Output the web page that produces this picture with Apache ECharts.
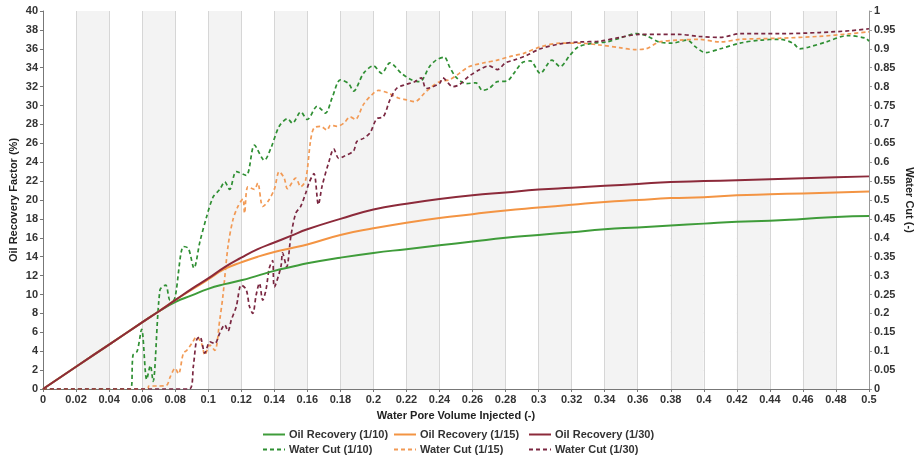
<!DOCTYPE html>
<html>
<head>
<meta charset="utf-8">
<script src="https://cdn.jsdelivr.net/npm/echarts@6/dist/echarts.min.js"></script>
<style>html,body{margin:0;padding:0;background:#fff;}#c{width:921px;height:455px;}</style>
</head>
<body>
<div id="c"></div>
<script>
// Oil recovery factor (%) vs water PV injected
const recX   = [0, 0.02, 0.04, 0.06, 0.07, 0.08, 0.09, 0.1, 0.11, 0.12, 0.13, 0.14, 0.15, 0.16, 0.18, 0.2, 0.22, 0.24, 0.26, 0.28, 0.3, 0.32, 0.34, 0.36, 0.38, 0.4, 0.42, 0.44, 0.46, 0.48, 0.5];
const rec10  = [0, 2.35, 4.7, 7.05, 8.2, 9.2, 9.9, 10.6, 11.1, 11.5, 12.0, 12.5, 12.9, 13.3, 13.9, 14.4, 14.8, 15.2, 15.6, 16.0, 16.3, 16.6, 16.9, 17.1, 17.3, 17.5, 17.7, 17.8, 18.0, 18.2, 18.3];
const rec15  = [0, 2.35, 4.7, 7.05, 8.2, 9.4, 10.5, 11.6, 12.7, 13.4, 14.0, 14.5, 14.9, 15.3, 16.3, 17.0, 17.6, 18.1, 18.5, 18.9, 19.2, 19.5, 19.8, 20.0, 20.2, 20.3, 20.5, 20.6, 20.7, 20.8, 20.9];
const rec30  = [0, 2.35, 4.7, 7.05, 8.2, 9.4, 10.6, 11.7, 12.9, 13.9, 14.8, 15.5, 16.2, 16.9, 18.0, 19.0, 19.6, 20.1, 20.5, 20.8, 21.1, 21.3, 21.5, 21.7, 21.9, 22.0, 22.1, 22.2, 22.3, 22.4, 22.5];

// Water cut (-) curves
const wc10X = [0, 0.053, 0.0545, 0.057, 0.0597, 0.0628, 0.065, 0.0666, 0.0708, 0.0743, 0.0769, 0.079, 0.085, 0.088, 0.0914, 0.095, 0.099, 0.103, 0.107, 0.110, 0.113, 0.117, 0.123, 0.128, 0.134, 0.138, 0.143, 0.148, 0.151, 0.156, 0.160, 0.166, 0.171, 0.175, 0.180, 0.185, 0.188, 0.194, 0.2, 0.205, 0.21, 0.217, 0.223, 0.228, 0.234, 0.238, 0.243, 0.246, 0.25, 0.256, 0.262, 0.266, 0.27, 0.275, 0.281, 0.285, 0.29, 0.295, 0.301, 0.308, 0.313, 0.319, 0.324, 0.333, 0.341, 0.349, 0.359, 0.365, 0.373, 0.381, 0.39, 0.395, 0.401, 0.41, 0.422, 0.434, 0.446, 0.454, 0.458, 0.464, 0.474, 0.487, 0.498, 0.5];
const wc10Y = [0, 0, 0.09, 0.1, 0.158, 0.025, 0.062, 0.02, 0.262, 0.275, 0.235, 0.235, 0.377, 0.372, 0.32, 0.39, 0.455, 0.508, 0.528, 0.548, 0.528, 0.575, 0.565, 0.645, 0.605, 0.638, 0.695, 0.715, 0.703, 0.733, 0.713, 0.748, 0.73, 0.77, 0.818, 0.808, 0.788, 0.835, 0.855, 0.835, 0.863, 0.835, 0.818, 0.813, 0.853, 0.87, 0.878, 0.853, 0.825, 0.808, 0.81, 0.79, 0.795, 0.813, 0.815, 0.835, 0.863, 0.868, 0.835, 0.87, 0.853, 0.883, 0.905, 0.915, 0.918, 0.928, 0.94, 0.935, 0.918, 0.915, 0.923, 0.905, 0.89, 0.9, 0.915, 0.923, 0.925, 0.915, 0.9, 0.905, 0.918, 0.935, 0.928, 0.92];

const wc15X = [0, 0.0635, 0.064, 0.07, 0.0748, 0.077, 0.080, 0.082, 0.085, 0.087, 0.090, 0.093, 0.096, 0.098, 0.101, 0.104, 0.107, 0.109, 0.112, 0.115, 0.118, 0.121, 0.122, 0.124, 0.128, 0.130, 0.133, 0.136, 0.140, 0.143, 0.146, 0.148, 0.153, 0.156, 0.159, 0.162, 0.164, 0.168, 0.172, 0.174, 0.178, 0.182, 0.186, 0.189, 0.194, 0.199, 0.203, 0.209, 0.215, 0.220, 0.225, 0.231, 0.234, 0.240, 0.246, 0.252, 0.258, 0.267, 0.275, 0.283, 0.291, 0.301, 0.313, 0.325, 0.337, 0.349, 0.358, 0.365, 0.373, 0.385, 0.397, 0.41, 0.422, 0.446, 0.470, 0.489, 0.5];
const wc15Y = [0, 0, 0.008, 0.008, 0.01, 0.032, 0.055, 0.04, 0.095, 0.102, 0.12, 0.138, 0.12, 0.09, 0.116, 0.102, 0.183, 0.25, 0.378, 0.448, 0.483, 0.503, 0.465, 0.535, 0.528, 0.545, 0.483, 0.495, 0.528, 0.575, 0.558, 0.53, 0.558, 0.535, 0.553, 0.658, 0.69, 0.695, 0.685, 0.698, 0.695, 0.703, 0.72, 0.713, 0.753, 0.778, 0.79, 0.783, 0.77, 0.765, 0.76, 0.783, 0.795, 0.813, 0.818, 0.835, 0.853, 0.863, 0.87, 0.88, 0.888, 0.905, 0.915, 0.915, 0.91, 0.903, 0.898, 0.9, 0.918, 0.923, 0.925, 0.918, 0.925, 0.928, 0.933, 0.94, 0.945];

const wc30X = [0, 0.0886, 0.091, 0.093, 0.095, 0.098, 0.101, 0.104, 0.107, 0.110, 0.112, 0.114, 0.117, 0.120, 0.123, 0.125, 0.127, 0.129, 0.131, 0.133, 0.135, 0.137, 0.139, 0.140, 0.144, 0.145, 0.1475, 0.150, 0.153, 0.156, 0.159, 0.161, 0.164, 0.1667, 0.169, 0.173, 0.176, 0.179, 0.182, 0.188, 0.190, 0.194, 0.198, 0.202, 0.206, 0.210, 0.214, 0.219, 0.225, 0.229, 0.232, 0.240, 0.242, 0.248, 0.252, 0.258, 0.2645, 0.270, 0.275, 0.280, 0.285, 0.293, 0.301, 0.313, 0.325, 0.337, 0.349, 0.361, 0.373, 0.385, 0.397, 0.41, 0.422, 0.446, 0.470, 0.489, 0.5];
const wc30Y = [0, 0, 0.06, 0.13, 0.138, 0.095, 0.125, 0.12, 0.148, 0.17, 0.153, 0.183, 0.218, 0.275, 0.263, 0.218, 0.2, 0.248, 0.28, 0.235, 0.263, 0.32, 0.34, 0.27, 0.323, 0.36, 0.323, 0.403, 0.465, 0.483, 0.518, 0.545, 0.57, 0.488, 0.538, 0.6, 0.635, 0.61, 0.615, 0.63, 0.655, 0.663, 0.678, 0.715, 0.72, 0.765, 0.795, 0.805, 0.813, 0.823, 0.795, 0.808, 0.823, 0.8, 0.805, 0.828, 0.845, 0.855, 0.845, 0.863, 0.87, 0.883, 0.9, 0.913, 0.918, 0.92, 0.93, 0.938, 0.938, 0.938, 0.933, 0.93, 0.94, 0.94, 0.943, 0.948, 0.953];

const names = ['Oil Recovery (1/10)', 'Oil Recovery (1/15)', 'Oil Recovery (1/30)', 'Water Cut (1/10)', 'Water Cut (1/15)', 'Water Cut (1/30)'];
const colGreen = '#3f9c3a', colOrange = '#f39443', colRed = '#8c2a3a';
const colGreenD = '#2f8f33', colOrangeD = '#f29a55', colRedD = '#7a2741';

function zip(xs, ys) { return xs.map((x, i) => [x, ys[i]]); }
function fmt(v) { return String(Math.round(v * 1000) / 1000); }

const FONT = 'Liberation Sans';
const lblStyle = { fontFamily: FONT, fontSize: 11, fontWeight: 'bold', color: '#333' };

const chart = echarts.init(document.getElementById('c'), null, { renderer: 'canvas' });

function solid(name, ys, color) {
  return { name, type: 'line', xAxisIndex: 0, yAxisIndex: 0, data: zip(recX, ys), smooth: true, symbol: 'none', showSymbol: false,
    lineStyle: { color, width: 2 }, itemStyle: { color }, z: 3 };
}
function dashed(name, xs, ys, color) {
  return { name, type: 'line', xAxisIndex: 0, yAxisIndex: 1, data: zip(xs, ys), smooth: 0.3, symbol: 'none', showSymbol: false,
    lineStyle: { color, width: 1.7, type: [4, 3] }, itemStyle: { color }, z: 2 };
}

const legendBase = {
  orient: 'vertical', top: 429, itemWidth: 22, itemHeight: 10, itemGap: 4,
  itemStyle: { opacity: 0 },
  textStyle: { fontFamily: FONT, fontSize: 11, fontWeight: 'bold', color: '#333', padding: [0, 0, 0, -1] },
  padding: 0
};

chart.setOption({
  animation: false,
  backgroundColor: '#ffffff',
  grid: { left: 43, right: 52, top: 11, bottom: 66, containLabel: false, outerBoundsMode: 'none' },
  legend: [
    Object.assign({}, legendBase, { left: 262, data: [names[0], names[3]] }),
    Object.assign({}, legendBase, { left: 393, data: [names[1], names[4]] }),
    Object.assign({}, legendBase, { left: 528, data: [names[2], names[5]] })
  ],
  xAxis: {
    type: 'value', min: 0, max: 0.5, interval: 0.02,
    name: 'Water Pore Volume Injected (-)', nameLocation: 'middle', nameGap: 21, nameMoveOverlap: false,
    nameTextStyle: { fontFamily: FONT, fontSize: 11, fontWeight: 'bold', color: '#222' },
    axisLine: { show: true, lineStyle: { color: '#777', width: 1 } },
    axisTick: { show: true, length: 3, lineStyle: { color: '#777' } },
    axisLabel: Object.assign({ formatter: fmt, margin: 5 }, lblStyle),
    splitLine: { show: true, lineStyle: { color: '#d6d6d6', width: 1 } },
    splitArea: { show: true, areaStyle: { color: ['#ffffff', '#f3f3f3'] } }
  },
  yAxis: [
    {
      type: 'value', min: 0, max: 40, interval: 2, position: 'left',
      name: 'Oil Recovery Factor (%)', nameLocation: 'middle', nameGap: 24, nameRotate: 90, nameMoveOverlap: false,
      nameTextStyle: { fontFamily: FONT, fontSize: 11, fontWeight: 'bold', color: '#222' },
      axisLine: { show: true, lineStyle: { color: '#777', width: 1 } },
      axisTick: { show: true, length: 3, lineStyle: { color: '#777' } },
      axisLabel: Object.assign({ formatter: fmt, margin: 5 }, lblStyle),
      splitLine: { show: true, lineStyle: { color: '#d8d8d8', width: 1 } }
    },
    {
      type: 'value', min: 0, max: 1, interval: 0.05, position: 'right',
      name: 'Water Cut (-)', nameLocation: 'middle', nameGap: 35, nameRotate: -90, nameMoveOverlap: false,
      nameTextStyle: { fontFamily: FONT, fontSize: 11, fontWeight: 'bold', color: '#222' },
      axisLine: { show: true, lineStyle: { color: '#999', width: 1 } },
      axisTick: { show: true, length: 3, lineStyle: { color: '#999' } },
      axisLabel: Object.assign({ formatter: fmt, margin: 5 }, lblStyle),
      splitLine: { show: false }
    }
  ],
  series: [
    dashed(names[3], wc10X, wc10Y, colGreenD),
    dashed(names[4], wc15X, wc15Y, colOrangeD),
    dashed(names[5], wc30X, wc30Y, colRedD),
    solid(names[0], rec10, colGreen),
    solid(names[1], rec15, colOrange),
    solid(names[2], rec30, colRed)
  ]
});
</script>
</body>
</html>
